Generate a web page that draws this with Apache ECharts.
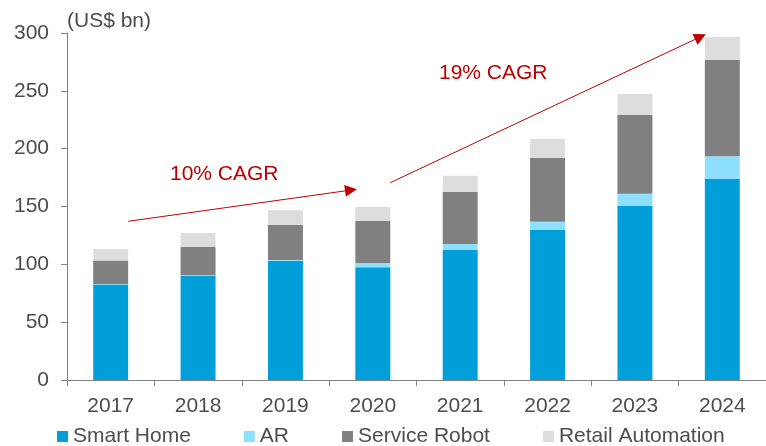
<!DOCTYPE html>
<html>
<head>
<meta charset="utf-8">
<script src="https://cdn.jsdelivr.net/npm/echarts@6/dist/echarts.min.js"></script>
<style>
  html, body { margin: 0; padding: 0; background: #fff; }
  #chart { width: 766px; height: 446px; }
</style>
</head>
<body>
<div id="chart"></div>
<script>
var years = ['2017', '2018', '2019', '2020', '2021', '2022', '2023', '2024'];
var smartHome = [82.5, 90.3, 103, 97.4, 112.4, 130, 150.4, 173.8];
var ar = [0.5, 0.5, 0.8, 3.7, 5.2, 6.9, 10.7, 19.6];
var serviceRobot = [20.3, 24.5, 30.5, 36.6, 45.2, 55.3, 68, 83.3];
var retailAutomation = [10, 11.8, 12.4, 11.9, 13.8, 16.2, 18.2, 19.8];

// arrow ends, in (category index, value)
var cagr1 = [[0.2, 137.2], [2.75, 164.2]];
var cagr2 = [[3.2, 170.6], [6.75, 296.7]];

var txt = '#4d4d4d';
var red = '#c00000';
var font = 'Liberation Sans, Arial, sans-serif';

var chart = echarts.init(document.getElementById('chart'));

function stack(name, data, color) {
    return {
        name: name,
        type: 'bar',
        stack: 'total',
        barWidth: '40%',
        data: data,
        itemStyle: { color: color },
        emphasis: { disabled: true }
    };
}

function arrow(pts) {
    return {
        type: 'line',
        xAxisIndex: 1,
        data: [],
        silent: true,
        markLine: {
            silent: true,
            symbol: ['none', 'triangle'],
            symbolSize: 12,
            label: { show: false },
            lineStyle: { color: red, width: 1, type: 'solid' },
            data: [[{ coord: pts[0] }, { coord: pts[1] }]]
        }
    };
}

var option = {
    animation: false,
    textStyle: { fontFamily: font },
    grid: { left: 67, right: -2, top: 33, bottom: 66 },
    legend: {
        left: 57,
        top: 426,
        padding: 0,
        itemGap: 53,
        itemWidth: 11,
        itemHeight: 11,
        icon: 'rect',
        textStyle: { color: txt, fontSize: 21, fontFamily: font },
        data: ['Smart Home', 'AR', 'Service Robot', 'Retail Automation']
    },
    xAxis: [{
        type: 'category',
        data: years,
        axisLine: { lineStyle: { color: '#808080', width: 1 } },
        axisTick: { show: true, length: 6, lineStyle: { color: '#808080' } },
        axisLabel: { color: txt, fontSize: 21, margin: 16 }
    }, {
        type: 'value',
        min: -0.5,
        max: 7.5,
        show: false
    }],
    yAxis: {
        type: 'value',
        min: 0,
        max: 300,
        interval: 50,
        name: '(US$ bn)',
        nameLocation: 'end',
        nameGap: 1,
        nameTextStyle: { color: txt, fontSize: 21, align: 'left' },
        splitLine: { show: false },
        axisLine: { show: true, onZero: false, lineStyle: { color: '#808080', width: 1 } },
        axisTick: { show: true, length: 6, lineStyle: { color: '#808080' } },
        axisLabel: { color: txt, fontSize: 21, margin: 18 }
    },
    graphic: [
        { type: 'text', left: 170, top: 164, style: { text: '10% CAGR', fill: red, font: '21px ' + font } },
        { type: 'text', left: 439, top: 63, style: { text: '19% CAGR', fill: red, font: '21px ' + font } }
    ],
    series: [
        stack('Smart Home', smartHome, '#009fda'),
        stack('AR', ar, '#8fdfff'),
        stack('Service Robot', serviceRobot, '#808080'),
        stack('Retail Automation', retailAutomation, '#dddddd'),
        arrow(cagr1),
        arrow(cagr2)
    ]
};

chart.setOption(option);
</script>
</body>
</html>
